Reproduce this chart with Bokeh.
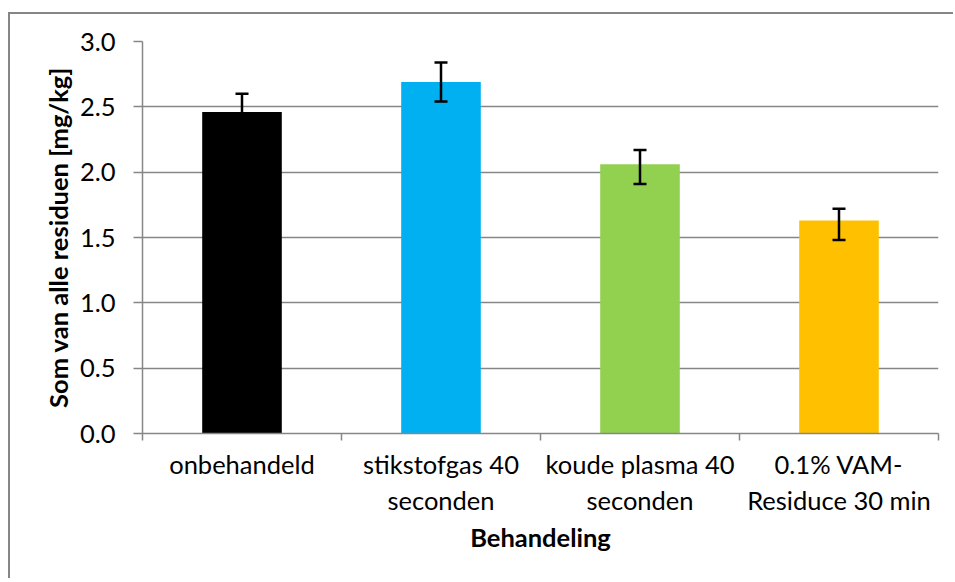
from bokeh.plotting import figure
from bokeh.models import (FixedTicker, Whisker, ColumnDataSource, Range1d,
                          NumeralTickFormatter, TeeHead)
from bokeh.embed import file_html
from bokeh.resources import INLINE

categories = ["onbehandeld", "stikstofgas 40\nseconden",
              "koude plasma 40\nseconden", "0.1% VAM-\nResiduce 30 min"]
values = [2.46, 2.69, 2.06, 1.63]
err_lower = [2.33, 2.54, 1.91, 1.48]
err_upper = [2.60, 2.84, 2.17, 1.72]
colors = ["#000000", "#00B0F0", "#92D050", "#FFC000"]
y_ticks = [0.0, 0.5, 1.0, 1.5, 2.0, 2.5, 3.0]
y_title = "Som van alle residuen [mg/kg]"
x_title = "Behandeling"

FONT = "Lato"
FS = "25.5px"
GRID = "#868686"

xpos = [i + 0.5 for i in range(len(categories))]
src = ColumnDataSource(dict(x=xpos, top=values, lower=err_lower,
                            upper=err_upper, color=colors))

# chart area box starts at page (8, 12); the canvas sits just inside its border
W, H = 945, 566
p = figure(width=W, height=H, x_range=Range1d(0, len(categories)),
           y_range=Range1d(0, 3), output_backend="svg", toolbar_location=None,
           min_border_left=132, min_border_right=W - 928, min_border_top=27,
           min_border_bottom=H - 419,
           styles={"margin-left": "8px", "margin-top": "12px",
                   "border-style": "solid none none solid",
                   "border-width": "2px 0px 0px 2px",
                   "border-color": GRID})
p.outline_line_color = None
p.background_fill_color = "white"
p.border_fill_color = "white"

p.vbar(x="x", top="top", width=0.4, bottom=0, fill_color="color",
       line_color=None, source=src)

w = Whisker(base="x", upper="upper", lower="lower", source=src,
            line_color="black", line_width=2.5, level="overlay",
            upper_head=TeeHead(size=13, line_width=2.5, line_color="black"),
            lower_head=TeeHead(size=13, line_width=2.5, line_color="black"))
p.add_layout(w)

# grid
p.xgrid.visible = False
p.ygrid.grid_line_color = GRID
p.ygrid.grid_line_width = 1.5
p.ygrid.ticker = FixedTicker(ticks=y_ticks)

# y axis
ya = p.yaxis[0]
ya.ticker = FixedTicker(ticks=y_ticks)
ya.formatter = NumeralTickFormatter(format="0.0")
ya.axis_line_color = GRID
ya.axis_line_width = 1.5
ya.major_tick_line_color = GRID
ya.major_tick_line_width = 1.5
ya.major_tick_out = 9
ya.major_tick_in = 0
ya.minor_tick_line_color = None
ya.major_label_standoff = 18
ya.major_label_text_font = FONT
ya.major_label_text_font_size = FS
ya.major_label_text_color = "black"
ya.axis_label = y_title
ya.axis_label_text_font = FONT
ya.axis_label_text_font_size = FS
ya.axis_label_text_font_style = "bold"
ya.axis_label_text_color = "black"
ya.axis_label_standoff = 4

# x axis
xa = p.xaxis[0]
xa.ticker = FixedTicker(ticks=xpos, minor_ticks=list(range(len(categories) + 1)))
xa.major_label_overrides = {x: c for x, c in zip(xpos, categories)}
xa.axis_line_color = GRID
xa.axis_line_width = 1.5
xa.major_tick_line_color = None
xa.major_tick_out = 0
xa.major_tick_in = 0
xa.minor_tick_line_color = GRID
xa.minor_tick_line_width = 1.5
xa.minor_tick_out = 7
xa.minor_tick_in = 0
xa.major_label_standoff = 8
xa.major_label_text_font = FONT
xa.major_label_text_font_size = FS
xa.major_label_text_color = "black"
xa.major_label_text_align = "center"
xa.axis_label = x_title
xa.axis_label_text_font = FONT
xa.axis_label_text_font_size = FS
xa.axis_label_text_font_style = "bold"
xa.axis_label_text_color = "black"
xa.axis_label_standoff = 4

open("out.html", "w").write(file_html(p, INLINE))
